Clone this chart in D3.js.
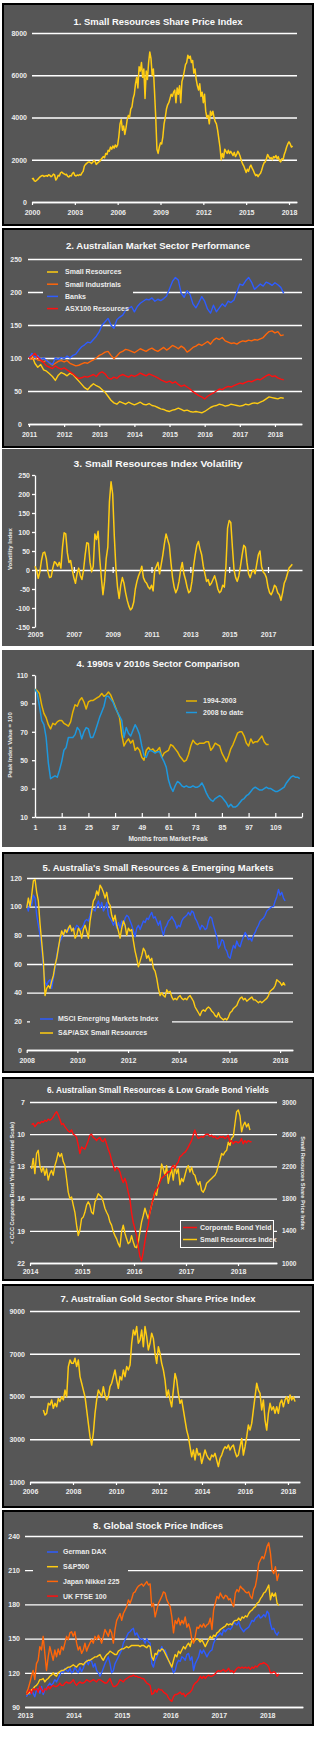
<!DOCTYPE html>
<html>
<head>
<meta charset="utf-8">
<script src="https://cdn.jsdelivr.net/npm/d3@7"></script>
<style>
  body { margin: 0; background: #fff; }
  svg { display: block; }
</style>
</head>
<body>
<script>
// ---------- data ----------
// 1. Small resources share price index, monthly 2000 - Apr 2018
const p1Span = [2000, 2018.25];
const p1Index = [
  1080,1120,1000,980,1030,1080,1150,1200,1240,1260,1210,1230,
  1250,1220,1290,1260,1200,1240,1320,1280,1040,1120,1260,1230,
  1380,1420,1360,1330,1290,1310,1210,1180,1250,1230,1360,1400,
  1260,1230,1280,1250,1300,1270,1380,1450,1700,1780,1830,1880,
  1900,1870,1820,1880,1960,1920,1780,1840,1890,1930,2010,2080,
  2150,2100,2300,2250,2450,2400,2600,2500,2650,2550,2700,2600,
  2700,3100,3700,3900,3400,3600,3200,3500,3900,4100,4000,4400,
  4500,4900,5100,5600,5900,5400,6400,6200,6600,5900,6300,4900,
  6200,5800,6600,7100,6800,6000,6300,5200,4000,2500,2300,2600,
  2800,2750,3100,3700,4000,4400,4600,4700,4900,5100,5000,5200,
  5300,4700,5400,5100,5500,4700,5700,5900,6200,6500,6600,6950,
  6800,6900,6600,6700,6100,6300,5800,5500,5300,5600,5000,5200,
  4700,5100,4300,4000,4100,3700,4300,4100,4300,4000,3800,3700,
  3400,3000,2600,2000,2300,2100,2500,2400,2300,2450,2300,2400,
  2300,2200,2350,2150,2250,2400,2300,2150,1950,1800,1700,1550,
  1400,1550,1450,1650,1750,1600,1500,1350,1250,1300,1200,1300,
  1350,1500,1700,1850,1900,2050,2250,2150,2050,2100,2000,2150,
  2100,2200,2050,2150,1950,1900,2050,2000,2250,2400,2600,2750,
  2850,2750,2600,2650
];
const p1YearTicks = [2000, 2003, 2006, 2009, 2012, 2015, 2018];
const p1ValueTicks = [0, 2000, 4000, 6000, 8000];

// 2. Australian market sectors, monthly Jan 2011 = 100
const p2Span = [2011, 2018.25];
const p2SmallRes = [
  100,104,92,86,90,82,80,76,72,66,74,78,
  76,73,77,75,70,65,60,55,52,57,61,58,
  56,52,48,42,36,32,30,34,32,30,33,31,
  29,31,33,30,29,31,28,27,25,23,22,20,
  19,21,22,24,22,20,21,19,18,19,18,17,
  19,22,25,27,28,30,29,27,28,30,29,28,
  27,28,30,29,31,32,31,33,35,38,41,40,
  39,38,40,39
];
const p2SmallInd = [
  100,98,101,97,96,94,97,92,89,92,95,96,
  94,96,92,90,88,89,91,93,92,95,97,100,
  104,106,109,110,104,99,103,108,110,113,112,110,
  108,111,114,112,110,113,115,112,110,113,116,112,
  115,119,117,114,118,115,109,112,116,118,121,119,
  122,125,121,127,130,128,131,126,124,122,123,121,
  124,126,125,127,126,128,127,129,131,136,140,141,
  138,140,134,135
];
const p2Banks = [
  100,107,101,104,98,100,96,93,90,100,98,101,
  99,103,100,104,106,112,117,120,124,123,128,133,
  140,150,155,160,150,145,158,162,165,172,175,178,
  170,178,183,186,189,188,191,186,189,187,190,194,
  205,216,222,218,198,192,202,196,182,176,184,193,
  186,174,168,180,170,176,182,178,186,184,188,200,
  212,210,217,222,215,204,208,212,209,215,213,210,
  214,211,207,198
];
const p2Asx100Res = [
  100,103,107,101,97,93,88,86,84,88,85,83,
  85,82,79,76,72,69,70,72,71,73,75,72,
  77,79,76,70,68,71,69,73,75,73,71,74,
  72,74,77,75,73,76,74,72,70,67,65,63,
  65,62,64,60,57,59,56,53,49,46,43,41,
  38,42,45,47,50,53,52,55,57,56,58,60,
  62,61,63,65,64,66,68,67,70,73,75,72,
  73,70,68,67
];
const p2Names = ['Small Resources', 'Small Industrials', 'Banks', 'ASX100 Resources'];
const p2YearTicks = [2011, 2012, 2013, 2014, 2015, 2016, 2017, 2018];
const p2ValueTicks = [0, 50, 100, 150, 200, 250];

// 3. Small resources index volatility, monthly 2005 - Apr 2018
const p3Span = [2005, 2018.25];
const p3Volatility = [
  10,0,-22,-5,25,45,47,30,-5,-20,-18,5,
  22,18,10,20,5,60,98,95,45,20,25,0,
  -20,-35,-10,5,-15,-25,0,40,72,70,20,-5,
  10,95,80,102,30,-20,-65,-30,30,60,180,232,
  200,90,5,-45,-75,-40,-20,-35,-60,-80,-95,-105,
  -100,-85,-50,-30,-15,-5,10,-20,-30,-35,-45,-50,
  -40,-55,0,10,20,-10,15,40,70,95,80,65,
  20,-20,-45,-60,-50,-30,0,20,-10,-25,-45,-60,
  -55,-30,10,40,65,75,55,40,10,-10,-30,-25,
  -40,-35,-25,-15,-30,-50,-60,-55,-40,-45,10,110,
  130,125,60,0,-20,-30,-15,10,40,65,60,20,
  -10,-20,-5,0,-10,15,40,50,10,-5,-10,-20,
  -45,-60,-65,-55,-40,-45,-60,-65,-80,-60,-35,-25,
  -10,5,10,15
];
const p3YearTicks = [2005, 2007, 2009, 2011, 2013, 2015, 2017];
const p3ValueTicks = [-150, -100, -50, 0, 50, 100, 150, 200, 250];

// 4. months from market peak, peak = 100
const p4Cycle1994 = [
  100,99,97,89,83,80,75,72,76,75,77,78,
  78,76,75,74,77,84,89,88,92,94,91,86,
  91,92,92,93,94,95,97,95,96,98,96,92,
  88,84,80,68,60,63,65,62,64,57,59,57,
  52,50,57,59,57,58,56,57,59,52,55,56,
  57,61,60,58,56,53,51,49,50,54,60,64,
  62,61,62,62,62,63,63,57,59,62,61,60,
  55,52,49,53,58,61,65,69,70,70,67,62,
  60,65,62,63,63,65,67,63,61,61
];
const p4Cycle2008 = [
  100,97,88,78,75,66,48,37,38,39,38,43,
  49,57,59,66,66,66,68,73,71,65,70,73,
  72,66,66,70,75,80,84,88,95,95,93,91,
  87,84,81,78,66,73,69,67,71,75,72,68,
  60,53,52,56,57,56,55,56,56,52,49,45,
  36,31,28,32,35,34,32,31,32,31,31,32,
  31,31,32,34,31,27,24,22,21,23,24,25,
  24,22,20,17,19,17,17,18,20,22,23,25,
  26,28,30,31,30,29,29,30,31,30,30,29,
  28,28,29,30,31,34,36,38,39,38,38,37
];
const p4Names = ['1994-2003', '2008 to date'];
const p4MonthTicks = [1, 13, 25, 37, 49, 61, 73, 85, 97, 109, 121];
const p4ValueTicks = [10, 30, 50, 70, 90, 110];

// 5. small resources v emerging markets, 2008 - Mar 2018
const p5Span = [2008, 2018.2];
const p5Emerging = [
  101,97,104,101,108,106,94,87,80,71,57,48,
  45,48,49,43,50,57,66,72,76,78,82,82,
  84,83,86,84,85,84,87,86,84,85,87,90,
  91,90,94,99,98,97,101,104,99,103,97,99,
  103,94,92,90,87,90,85,89,85,90,87,92,
  94,93,90,87,83,79,85,87,84,87,90,89,
  92,91,94,96,92,93,90,87,90,84,80,85,
  87,90,91,93,91,89,85,87,86,90,92,93,
  94,96,94,97,96,92,90,87,84,87,86,84,
  85,90,93,92,87,83,79,71,73,77,76,71,
  69,65,64,69,73,71,76,73,72,76,79,82,
  80,77,78,76,80,82,85,87,90,91,92,94,
  97,98,99,100,100,104,107,112,108,110,106,104
];
const p5SmallRes = [
  99,106,100,108,118,119,110,104,88,75,62,38,
  43,45,43,48,52,59,64,71,78,83,80,84,
  82,85,87,83,85,78,80,85,83,78,84,87,
  83,78,90,97,104,106,111,108,115,113,110,106,
  110,103,101,94,90,94,87,83,78,85,90,87,
  80,85,83,84,76,69,64,58,62,66,71,69,
  64,66,62,64,57,55,50,43,38,40,38,37,
  42,40,41,37,35,36,35,37,38,36,35,36,
  35,37,38,36,34,30,28,26,24,27,28,27,
  29,30,29,27,26,24,23,26,23,22,21,22,
  21,23,26,27,29,30,31,34,36,37,35,36,
  34,35,36,37,35,35,34,33,34,33,34,35,
  36,38,41,42,43,45,49,48,47,45,47,45
];
const p5Names = ['MSCI Emerging Markets Index', 'S&P/ASX Small Resources'];
const p5YearTicks = [2008, 2010, 2012, 2014, 2016, 2018];
const p5ValueTicks = [0, 20, 40, 60, 80, 100, 120];

// 6. small resources v CCC bond yields, 2014 - Apr 2018
const p6YieldSpan = [2014.03, 2018.26];
const p6BondYield = [
  9.1,9.0,9.3,9.1,8.9,9.0,8.8,8.9,8.7,8.8,8.6,8.7,
  8.6,8.4,8.1,7.9,8.2,8.6,9.1,9.0,9.3,9.5,9.7,9.8,
  9.6,10.0,10.1,10.3,11.0,11.8,11.2,11.3,11.4,11.0,10.6,10.1,
  10.0,10.3,10.4,10.6,10.4,10.3,10.6,10.7,10.4,10.9,11.4,11.8,
  12.4,12.9,13.4,13.1,13.2,13.5,14.1,14.5,14.1,14.6,15.4,16.0,
  17.3,18.2,18.8,19.4,20.4,21.4,21.8,21.0,20.0,19.1,18.5,17.3,
  16.6,16.0,15.4,15.1,14.9,14.5,14.1,14.0,13.8,13.7,13.5,13.5,
  13.1,12.9,13.2,12.8,12.6,12.1,12.0,11.8,11.7,11.5,11.2,10.9,
  10.6,10.1,9.6,10.1,10.4,10.3,10.2,10.3,10.1,10.0,10.0,10.2,
  10.1,10.3,10.2,10.4,10.4,10.2,10.3,10.2,10.4,10.3,10.1,10.7,
  10.6,10.9,10.7,10.7,10.8,10.7,10.4,10.9,10.6,10.8,10.6,10.7,
  10.7
];
const p6PriceSpan = [2014.03, 2018.23];
const p6SmallRes = [
  2170,2300,2110,2360,2400,2210,2130,2190,2090,2170,2030,2110,
  2150,2090,2210,2280,2370,2320,2360,2260,2210,2050,1880,1800,
  1820,1720,1630,1470,1340,1410,1550,1570,1630,1720,1760,1720,
  1630,1610,1760,1800,1860,1840,1820,1760,1680,1630,1590,1510,
  1470,1390,1340,1300,1240,1200,1390,1470,1370,1300,1240,1260,
  1340,1260,1200,1190,1260,1390,1510,1590,1680,1610,1550,1630,
  1720,1800,1880,1840,1970,2050,2230,2170,2090,2210,1990,2090,
  2170,2030,2210,2110,2170,1970,2050,2010,2090,2170,2210,2130,
  2190,2110,2090,2010,1970,2010,1900,1880,1920,1990,2010,2030,
  2050,2070,2090,2130,2210,2280,2360,2340,2380,2400,2500,2460,
  2550,2570,2730,2880,2900,2830,2630,2710,2750,2690,2730,2650
];
const p6Names = ['Corporate Bond Yield', 'Small Resources Index'];
const p6YearTicks = [2014, 2015, 2016, 2017, 2018];
const p6YieldTicks = [7, 10, 13, 16, 19, 22];
const p6PriceTicks = [1000, 1400, 1800, 2200, 2600, 3000];

// 7. Australian gold sector share price index, Aug 2006 - Apr 2018
const p7Span = [2006.62, 2018.33];
const p7Gold = [
  4370,4130,4210,4680,4600,4840,4450,4680,4520,4910,4760,4990,
  4840,5300,4990,6400,6710,6550,6550,6790,6400,6710,5930,5620,
  5300,4990,4370,3740,3120,2730,3280,4210,4840,5300,5150,4990,
  5460,5070,4840,4990,5460,5620,5930,6240,5770,5380,5930,5770,
  6240,5930,6400,6240,6470,7490,8110,7880,8270,7490,7640,8110,
  7330,8270,7800,7180,7490,7960,7720,7020,6550,7330,7020,6550,
  6240,5770,4990,5300,4840,4520,5300,6080,5770,5150,4680,4840,
  4370,3900,3430,3120,2650,2180,2500,2030,2570,2260,2340,1870,
  2180,2500,2260,2110,2030,2260,2180,2340,2030,1720,2110,2260,
  2500,2650,2570,2730,2500,2650,2730,2420,2180,2260,2650,3040,
  2260,2650,3120,3670,3430,3740,4370,4990,5620,5300,5150,4370,
  4840,3900,3430,4210,4680,4370,4520,4210,4520,4210,4680,4840,
  4520,4840,4990,4680,5070,4840,4990,4760
];
const p7YearTicks = [2006, 2008, 2010, 2012, 2014, 2016, 2018];
const p7ValueTicks = [1000, 3000, 5000, 7000, 9000];

// 8. global stock price indices, Jan 2013 = 100
const p8Span = [2013.03, 2018.24];
const p8Dax = [
  99,102,101,105,102,99,105,106,102,108,101,105,
  106,109,111,109,111,114,112,115,118,122,120,124,
  122,121,124,120,121,125,122,120,125,121,124,128,
  131,127,131,130,125,128,122,120,117,120,124,128,
  131,134,128,120,122,128,131,134,137,140,146,149,
  152,155,156,158,159,153,155,152,149,150,149,146,
  150,147,146,128,125,131,134,137,140,143,139,140,
  136,131,128,125,120,122,128,131,130,134,133,131,
  136,137,131,134,122,128,131,134,140,137,140,137,
  134,137,139,140,146,149,152,153,155,153,158,156,
  158,159,158,160,165,163,162,165,160,158,156,158,
  159,160,163,166,165,168,169,171,168,169,171,169,
  174,172,163,158,159,155,153,156
];
const p8Sp500 = [
  101,102,103,105,106,108,109,111,114,114,115,112,
  114,115,117,118,120,118,117,120,121,122,122,123,
  124,125,125,126,127,126,125,127,128,128,127,129,
  130,131,131,132,133,134,134,135,136,133,131,134,
  136,137,139,138,137,136,136,139,140,141,141,142,
  143,142,143,144,144,144,144,144,143,144,144,143,
  142,144,143,134,131,137,136,140,139,141,140,137,
  134,131,128,125,131,136,134,139,137,140,143,141,
  144,146,143,149,147,149,150,149,147,149,146,143,
  146,149,152,150,153,152,155,156,158,159,160,161,
  163,162,163,162,165,166,166,168,166,169,168,170,
  169,172,174,175,177,178,181,182,185,187,190,191,
  194,197,184,190,187,190,181,179
];
const p8Nikkei = [
  102,106,111,117,122,114,128,131,143,140,152,137,
  122,134,143,137,131,140,134,141,136,143,140,146,
  152,149,155,156,152,156,146,140,143,137,140,146,
  139,143,146,149,146,152,149,153,150,146,152,158,
  155,152,158,155,146,158,166,169,172,166,172,175,
  178,184,181,185,190,191,194,196,197,198,196,198,
  200,197,198,178,181,169,175,181,184,187,191,190,
  184,181,178,169,155,166,163,168,162,166,163,169,
  160,163,158,149,146,152,160,159,162,160,163,160,
  162,163,168,158,175,181,187,185,190,187,185,188,
  187,184,185,181,178,190,193,191,196,194,193,191,
  190,191,187,185,193,196,204,216,219,222,220,225,
  231,234,225,210,207,213,201,207
];
const p8Ftse = [
  101,103,105,102,106,105,106,103,108,105,103,106,
  105,108,106,108,109,108,108,109,111,109,109,111,
  112,111,111,112,114,111,109,111,112,111,111,112,
  114,113,112,113,114,113,112,114,114,113,112,111,
  111,113,115,111,108,108,109,111,114,113,112,114,
  115,116,117,117,118,117,117,116,116,115,115,113,
  111,110,109,101,102,105,103,106,105,105,103,102,
  101,98,96,95,99,101,101,102,103,101,102,99,
  101,102,103,105,109,111,112,114,117,115,117,115,
  117,118,117,117,118,119,121,122,121,122,123,121,
  122,124,121,122,120,122,124,125,124,125,124,125,
  124,125,123,125,124,126,125,127,128,128,129,128,
  127,125,120,120,121,120,117,119
];
const p8Names = ['German DAX', 'S&P500', 'Japan Nikkei 225', 'UK FTSE 100'];
const p8YearTicks = [2013, 2014, 2015, 2016, 2017, 2018];
const p8ValueTicks = [90, 120, 150, 180, 210, 240];

// ---------- style ----------
const FONT = '"Liberation Sans", Arial, Helvetica, sans-serif';
const BG = '#565656';
const GRID = '#ffffff';
const TEXT = '#ececec';
const YELLOW = '#ffcc12';
const ORANGE = '#ff660a';
const BLUE = '#2e5cff';
const RED = '#ff1010';
const GOLD4 = '#e8b400';
const BLUE4 = '#1e98de';

const svg = d3.select('body').append('svg')
  .attr('width', 321).attr('height', 1741)
  .style('font-family', FONT).style('font-weight', 'bold');

// ---------- helpers ----------
const spread = (values, span) => {
  const step = (span[1] - span[0]) / (values.length - 1);
  return values.map((v, i) => [span[0] + i * step, v]);
};
const asIs = d => d;

function panel(top, height, boxed) {
  const g = svg.append('g');
  g.append('rect').attr('x', 2).attr('y', top).attr('width', 312).attr('height', height)
    .attr('fill', BG);
  if (boxed) {
    g.append('rect').attr('x', 3).attr('y', top + 1).attr('width', 310).attr('height', height - 2)
      .attr('fill', 'none').attr('stroke', '#000').attr('stroke-width', 2);
  } else {
    g.append('line').attr('x1', 313).attr('x2', 313).attr('y1', top).attr('y2', top + height)
      .attr('stroke', '#000').attr('stroke-width', 2);
  }
  return g;
}

function title(g, text, cy, size, width) {
  g.append('text').attr('x', 158).attr('y', cy).attr('dy', '0.36em')
    .attr('text-anchor', 'middle').attr('font-size', size).attr('fill', '#fafafa')
    .attr('textLength', width).attr('lengthAdjust', 'spacingAndGlyphs')
    .text(text);
}

function styleText(sel, size = 7) {
  sel.selectAll('text').attr('fill', TEXT).attr('font-size', size)
    .attr('font-family', FONT).attr('font-weight', 'bold');
}

// horizontal gridlines with labels on the left
function grid(g, y, ticks, x0, x1, pad) {
  const a = g.append('g').attr('transform', `translate(${x0},0)`)
    .call(d3.axisLeft(y).tickValues(ticks).tickSize(-(x1 - x0)).tickPadding(pad).tickFormat(asIs));
  a.select('.domain').remove();
  a.selectAll('line').attr('stroke', GRID).attr('stroke-width', 1.3);
  styleText(a);
  return a;
}

function bottomAxis(g, x, ticks, yPos, size, pad, fmt = asIs, domain = true) {
  const a = g.append('g').attr('transform', `translate(0,${yPos})`)
    .call(d3.axisBottom(x).tickValues(ticks).tickSize(size).tickSizeOuter(0).tickPadding(pad).tickFormat(fmt));
  a.select('.domain').attr('stroke', domain ? GRID : 'none').attr('stroke-width', 1.3);
  a.selectAll('.tick line').attr('stroke', GRID).attr('stroke-width', 1.2);
  styleText(a);
  return a;
}

function plot(g, data, x, y, color, width = 1.4) {
  g.append('path').datum(data)
    .attr('fill', 'none').attr('stroke', color).attr('stroke-width', width)
    .attr('stroke-linejoin', 'round')
    .attr('d', d3.line().x(d => x(d[0])).y(d => y(d[1])));
}

function legend(g, names, colors, x, y0, dy, len, gap) {
  names.forEach((name, i) => {
    const y = y0 + i * dy;
    g.append('line').attr('x1', x).attr('x2', x + len).attr('y1', y).attr('y2', y)
      .attr('stroke', colors[i]).attr('stroke-width', 1.5);
    g.append('text').attr('x', x + len + gap).attr('y', y).attr('dy', '0.35em')
      .attr('font-size', 7).attr('fill', TEXT).text(name);
  });
}

function sideTitle(g, text, x, cy, angle, size = 6) {
  g.append('text').attr('transform', `translate(${x},${cy}) rotate(${angle})`)
    .attr('text-anchor', 'middle').attr('dy', '0.35em')
    .attr('font-size', size).attr('fill', TEXT).text(text);
}

// ---------- 1 ----------
{
  const g = panel(3, 223, true);
  title(g, '1. Small Resources Share Price Index', 22, 9.5, 169);
  const x = d3.scaleLinear().domain([2000, 2018.56]).range([32, 297]);
  const y = d3.scaleLinear().domain([0, 8000]).range([202, 33]);
  grid(g, y, p1ValueTicks, 32, 297, 5);
  bottomAxis(g, x, p1YearTicks, 202, 3, 5.5);
  plot(g, spread(p1Index, p1Span), x, y, YELLOW, 1.5);
}

// ---------- 2 ----------
{
  const g = panel(228, 220, true);
  title(g, '2.  Australian Market Sector Performance', 246, 9.5, 184);
  const x = d3.scaleLinear().domain([2011, 2018.77]).range([29, 302]);
  const y = d3.scaleLinear().domain([0, 250]).range([424, 259]);
  grid(g, y, p2ValueTicks, 28, 302, 6);
  bottomAxis(g, x, p2YearTicks, 424, 3, 5.5);
  g.append('rect').attr('x', 43).attr('y', 266).attr('width', 90).attr('height', 47).attr('fill', BG);
  plot(g, spread(p2SmallRes, p2Span), x, y, YELLOW);
  plot(g, spread(p2SmallInd, p2Span), x, y, ORANGE);
  plot(g, spread(p2Banks, p2Span), x, y, BLUE);
  plot(g, spread(p2Asx100Res, p2Span), x, y, RED);
  legend(g, p2Names, [YELLOW, ORANGE, BLUE, RED], 47, 272, 12.2, 11, 7);
}

// ---------- 3 ----------
{
  const g = panel(449, 197, false);
  title(g, '3.  Small Resources Index Volatility', 464, 9.5, 169);
  const x = d3.scaleLinear().domain([2005, 2018.75]).range([35, 302]);
  const y = d3.scaleLinear().domain([-150, 250]).range([627, 475]);
  const ya = g.append('g').attr('transform', 'translate(35,0)')
    .call(d3.axisLeft(y).tickValues(p3ValueTicks).tickSize(3).tickSizeOuter(0).tickPadding(2).tickFormat(asIs));
  ya.selectAll('line, path').attr('stroke', GRID).attr('stroke-width', 1.3);
  styleText(ya);
  const zero = bottomAxis(g, x, p3YearTicks.slice(1), y(0), 3, 0, () => '');
  zero.selectAll('.tick line').attr('y1', -3).attr('y2', 3);
  bottomAxis(g, x, p3YearTicks, 627, 0, 5.5, asIs, false);
  sideTitle(g, 'Volatility Index', 10, 549, -90);
  plot(g, spread(p3Volatility, p3Span), x, y, YELLOW, 1.5);
}

// ---------- 4 ----------
{
  const g = panel(650, 197, false);
  title(g, '4. 1990s v 2010s Sector Comparison', 664, 9.5, 163);
  const x = d3.scaleLinear().domain([1, 121]).range([35, 302]);
  const y = d3.scaleLinear().domain([10, 110]).range([817, 675]);
  const ya = g.append('g').attr('transform', 'translate(35,0)')
    .call(d3.axisLeft(y).tickValues(p4ValueTicks).tickSize(3).tickSizeOuter(0).tickPadding(4).tickFormat(asIs));
  ya.selectAll('line, path').attr('stroke', GRID).attr('stroke-width', 1.3);
  styleText(ya);
  bottomAxis(g, x, p4MonthTicks, 817, -4, 8.5, d => (d > 110 ? '' : d));
  sideTitle(g, 'Peak Index Value = 100', 10, 745, -90);
  g.append('text').attr('x', 168).attr('y', 839).attr('dy', '0.35em').attr('text-anchor', 'middle')
    .attr('font-size', 6.5).attr('fill', TEXT).text('Months from Market Peak');
  plot(g, p4Cycle1994.map((v, i) => [i + 1, v]), x, y, GOLD4, 1.5);
  plot(g, p4Cycle2008.map((v, i) => [i + 1, v]), x, y, BLUE4, 1.5);
  legend(g, p4Names, [GOLD4, BLUE4], 186, 701, 11.5, 11, 6);
}

// ---------- 5 ----------
{
  const g = panel(852, 221, true);
  title(g, "5. Australia's Small Resources & Emerging Markets", 868, 9.5, 231);
  const x = d3.scaleLinear().domain([2008, 2018.51]).range([26.7, 293]);
  const y = d3.scaleLinear().domain([0, 120]).range([1050, 878]);
  grid(g, y, p5ValueTicks, 27, 293, 5);
  bottomAxis(g, x, p5YearTicks, 1050, 3, 5.5);
  g.append('rect').attr('x', 30).attr('y', 1012).attr('width', 142).attr('height', 28).attr('fill', BG);
  plot(g, spread(p5Emerging, p5Span), x, y, BLUE);
  plot(g, spread(p5SmallRes, p5Span), x, y, YELLOW);
  legend(g, p5Names, [BLUE, YELLOW], 40, 1019, 14, 13, 5);
}

// ---------- 6 ----------
{
  const g = panel(1077, 204, true);
  title(g, '6. Australian Small Resources & Low Grade Bond Yields', 1090, 8.5, 222);
  const x = d3.scaleLinear().domain([2014, 2018.75]).range([30, 277]);
  const yL = d3.scaleLinear().domain([7, 22]).range([1102, 1263]);
  const yR = d3.scaleLinear().domain([1000, 3000]).range([1263, 1102]);
  grid(g, yL, p6YieldTicks, 30, 277, 5);
  const ra = g.append('g').attr('transform', 'translate(277,0)')
    .call(d3.axisRight(yR).tickValues(p6PriceTicks).tickSize(0).tickPadding(5).tickFormat(asIs));
  ra.select('.domain').remove();
  styleText(ra, 6.5);
  bottomAxis(g, x, p6YearTicks, 1263, 3, 3.5);
  sideTitle(g, '< CCC Corporate Bond Yields (Inverted Scale)', 12, 1183, -90, 5.6);
  sideTitle(g, 'Small Resources Share Price Index', 303, 1183, 90, 5.6);
  plot(g, spread(p6SmallRes, p6PriceSpan), x, yR, YELLOW);
  plot(g, spread(p6BondYield, p6YieldSpan), x, yL, RED);
  g.append('rect').attr('x', 180.5).attr('y', 1220.5).attr('width', 93).attr('height', 27)
    .attr('fill', BG).attr('stroke', GRID).attr('stroke-width', 1);
  legend(g, p6Names, [RED, YELLOW], 183, 1227.5, 12, 14, 3);
}

// ---------- 7 ----------
{
  const g = panel(1284, 224, true);
  title(g, '7. Australian Gold Sector Share Price Index', 1299, 9.5, 195);
  const x = d3.scaleLinear().domain([2006, 2018.56]).range([30, 300]);
  const y = d3.scaleLinear().domain([1000, 9000]).range([1482, 1311]);
  grid(g, y, p7ValueTicks, 30, 300, 5);
  bottomAxis(g, x, p7YearTicks, 1482, 3, 4.5);
  plot(g, spread(p7Gold, p7Span), x, y, YELLOW, 1.5);
}

// ---------- 8 ----------
{
  const g = panel(1510, 216, true);
  title(g, '8.  Global Stock Price Indices', 1526, 9.5, 130);
  const x = d3.scaleLinear().domain([2013, 2018.74]).range([25, 303]);
  const y = d3.scaleLinear().domain([90, 240]).range([1707, 1536]);
  grid(g, y, p8ValueTicks, 25, 303, 5);
  bottomAxis(g, x, p8YearTicks, 1707, 0, 6.5);
  g.append('rect').attr('x', 33).attr('y', 1545).attr('width', 95).attr('height', 56).attr('fill', BG);
  plot(g, spread(p8Dax, p8Span), x, y, BLUE);
  plot(g, spread(p8Sp500, p8Span), x, y, YELLOW);
  plot(g, spread(p8Nikkei, p8Span), x, y, ORANGE);
  plot(g, spread(p8Ftse, p8Span), x, y, RED);
  legend(g, p8Names, [BLUE, YELLOW, ORANGE, RED], 47, 1552, 14.7, 11, 5);
}
</script>
</body>
</html>
